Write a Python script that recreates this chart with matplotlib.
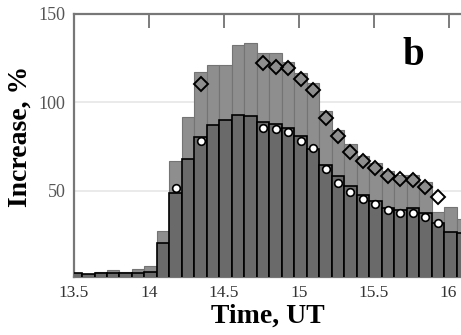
import matplotlib
matplotlib.use('Agg')
import matplotlib.pyplot as plt
import numpy as np

# 5-minute bins, first bin centre
t0 = 13.512
binw = 5 / 60.

# total increase (light bars) and lower part (dark bars), %
light = [3.2, 2.6, 4.0, 5.0, 3.6, 5.3, 7.2, 27.0, 66.5, 91.7, 117.0, 120.9,
         120.9, 132.4, 133.4, 127.7, 127.7, 122.7, 116.7, 111.0, 94.9, 84.5,
         76.5, 69.7, 65.8, 61.0, 58.8, 58.8, 55.0, 38.0, 40.9, 33.6]
dark = [3.1, 2.5, 3.4, 3.4, 3.1, 3.4, 4.0, 20.3, 48.7, 67.6, 80.5, 87.3,
        90.2, 93.0, 92.3, 88.6, 87.7, 85.4, 80.7, 73.8, 64.6, 58.4,
        52.5, 47.3, 43.8, 40.0, 39.0, 40.0, 37.0, 31.5, 26.7, 25.8]

# point markers: bin index and value
circ_bin = [8, 10, 15, 16, 17, 18, 19, 20, 21, 22, 23, 24, 25, 26, 27, 28, 29]
circ_val = [51.3, 78.2, 85.4, 84.9, 83.0, 78.2, 74.1, 62.2, 54.2, 48.9, 45.0,
            42.4, 38.8, 37.5, 37.5, 34.8, 31.4]
diam_bin = [10, 15, 16, 17, 18, 19, 20, 21, 22, 23, 24, 25, 26, 27, 28, 29]
diam_val = [110.6, 122.4, 119.9, 119.5, 112.9, 107.2, 91.1, 80.7, 71.6, 66.7,
            62.7, 58.0, 56.5, 56.0, 51.8, 46.6]

xticks = [13.5, 14, 14.5, 15, 15.5, 16]
xticklabels = ['13.5', '14', '14.5', '15', '15.5', '16']
yticks = [50, 100, 150]

time = t0 + binw * np.arange(len(light))

plt.rcParams['font.family'] = ['Liberation Serif', 'DejaVu Serif']

fig = plt.figure(figsize=(4.61, 3.35), dpi=100)
ax = fig.add_axes([74 / 461, 58 / 335, 387 / 461, 263 / 335])

ax.bar(time, light, width=binw, color='#8e8e8e', edgecolor='#747474', linewidth=0.8, zorder=2)
ax.bar(time, dark, width=binw, color='#6a6a6a', edgecolor='black', linewidth=1.2, zorder=3)

ax.plot(time[diam_bin], diam_val, linestyle='none', marker='D', markersize=6.8,
        markerfacecolor='none', markeredgecolor='black', markeredgewidth=1.4, zorder=4)
ax.plot(time[circ_bin], circ_val, linestyle='none', marker='o', markersize=5.5,
        markerfacecolor='white', markeredgecolor='black', markeredgewidth=1.2, zorder=5)

ax.set_xlim(13.5, 16.083)
ax.set_ylim(1, 150)

for y in [50, 100]:
    ax.axhline(y, color='#e6e6e6', linewidth=1.2, zorder=1)

ax.set_xticks(xticks)
ax.set_xticklabels(xticklabels)
ax.set_yticks(yticks)
ax.tick_params(axis='x', direction='in', length=3, width=1.2, color='#666666',
               top=True, labelsize=12.5, labelcolor='#333333', pad=6)
ax.tick_params(axis='y', length=0, labelsize=13, labelcolor='#555555', pad=6)
# longer ticks on the top spine
for t in ax.xaxis.get_major_ticks():
    t.tick2line.set_markersize(10)

ax.spines['right'].set_visible(False)
for s in ['left', 'top', 'bottom']:
    ax.spines[s].set_color('#777777')
    ax.spines[s].set_linewidth(1.6)

ax.set_xlabel('Time, UT', fontsize=20, fontweight='bold', labelpad=2)
ax.set_ylabel('Increase, %', fontsize=20, fontweight='bold')
ax.yaxis.set_label_coords(-0.106, 0.535)

ax.text(15.763, 121, 'b', fontsize=28, fontweight='bold', ha='center', va='baseline')

plt.savefig('out.png', dpi=100)
